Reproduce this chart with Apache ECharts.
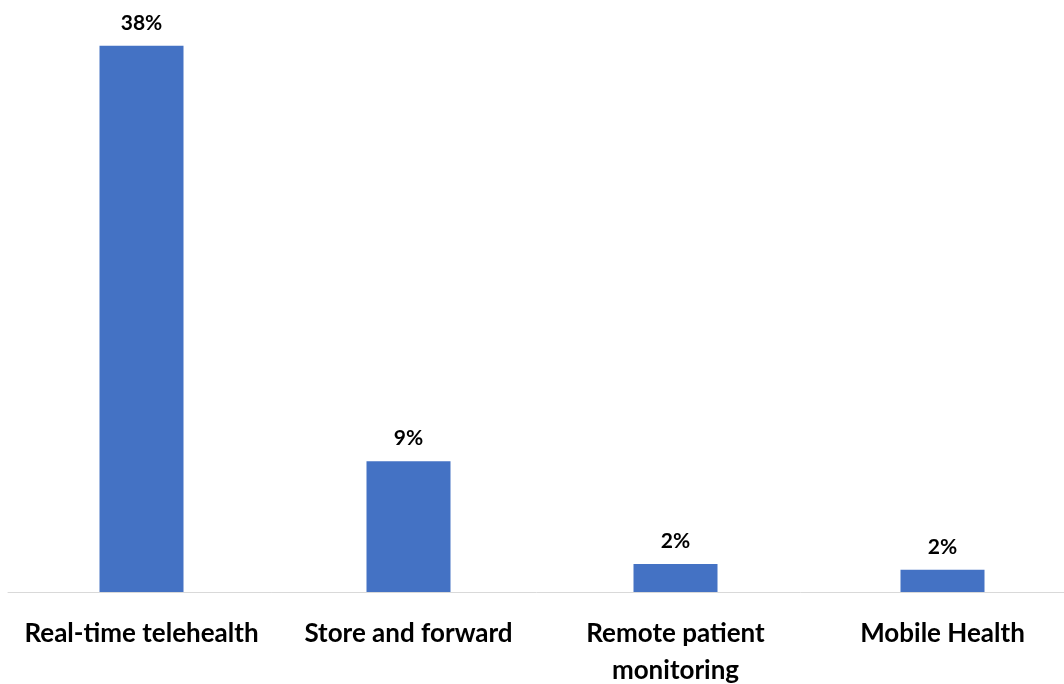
<!DOCTYPE html>
<html>
<head>
<meta charset="utf-8">
<script src="https://cdn.jsdelivr.net/npm/echarts@6/dist/echarts.min.js"></script>
<style>html,body{margin:0;padding:0;background:#fff}#c{width:1064px;height:684px}</style>
</head>
<body>
<div id="c"></div>
<script>
var categories = ['Real-time telehealth', 'Store and forward', 'Remote patient\nmonitoring', 'Mobile Health'];
var values = [38, 9.1, 1.95, 1.55];

var chart = echarts.init(document.getElementById('c'));
chart.setOption({
  animation: false,
  grid: { left: 8, width: 1068, top: 17, bottom: 92, containLabel: false, outerBoundsMode: 'none' },
  xAxis: {
    type: 'category',
    data: categories,
    axisLine: { lineStyle: { color: '#d9d9d9', width: 1 } },
    axisTick: { show: false },
    axisLabel: {
      interval: 0,
      margin: 23,
      fontFamily: 'Lato',
      fontWeight: 'bold',
      fontSize: 26,
      lineHeight: 37,
      color: '#000'
    }
  },
  yAxis: {
    type: 'value',
    min: 0,
    max: 40,
    show: false,
    splitLine: { show: false }
  },
  series: [{
    type: 'bar',
    data: values,
    barWidth: 84,
    itemStyle: { color: '#4472C4' },
    label: {
      show: true,
      position: 'top',
      distance: 12,
      fontFamily: 'Lato',
      fontWeight: 'bold',
      fontSize: 21,
      color: '#000',
      formatter: function (p) { return Math.round(p.value) + '%'; }
    }
  }]
});
</script>
</body>
</html>
